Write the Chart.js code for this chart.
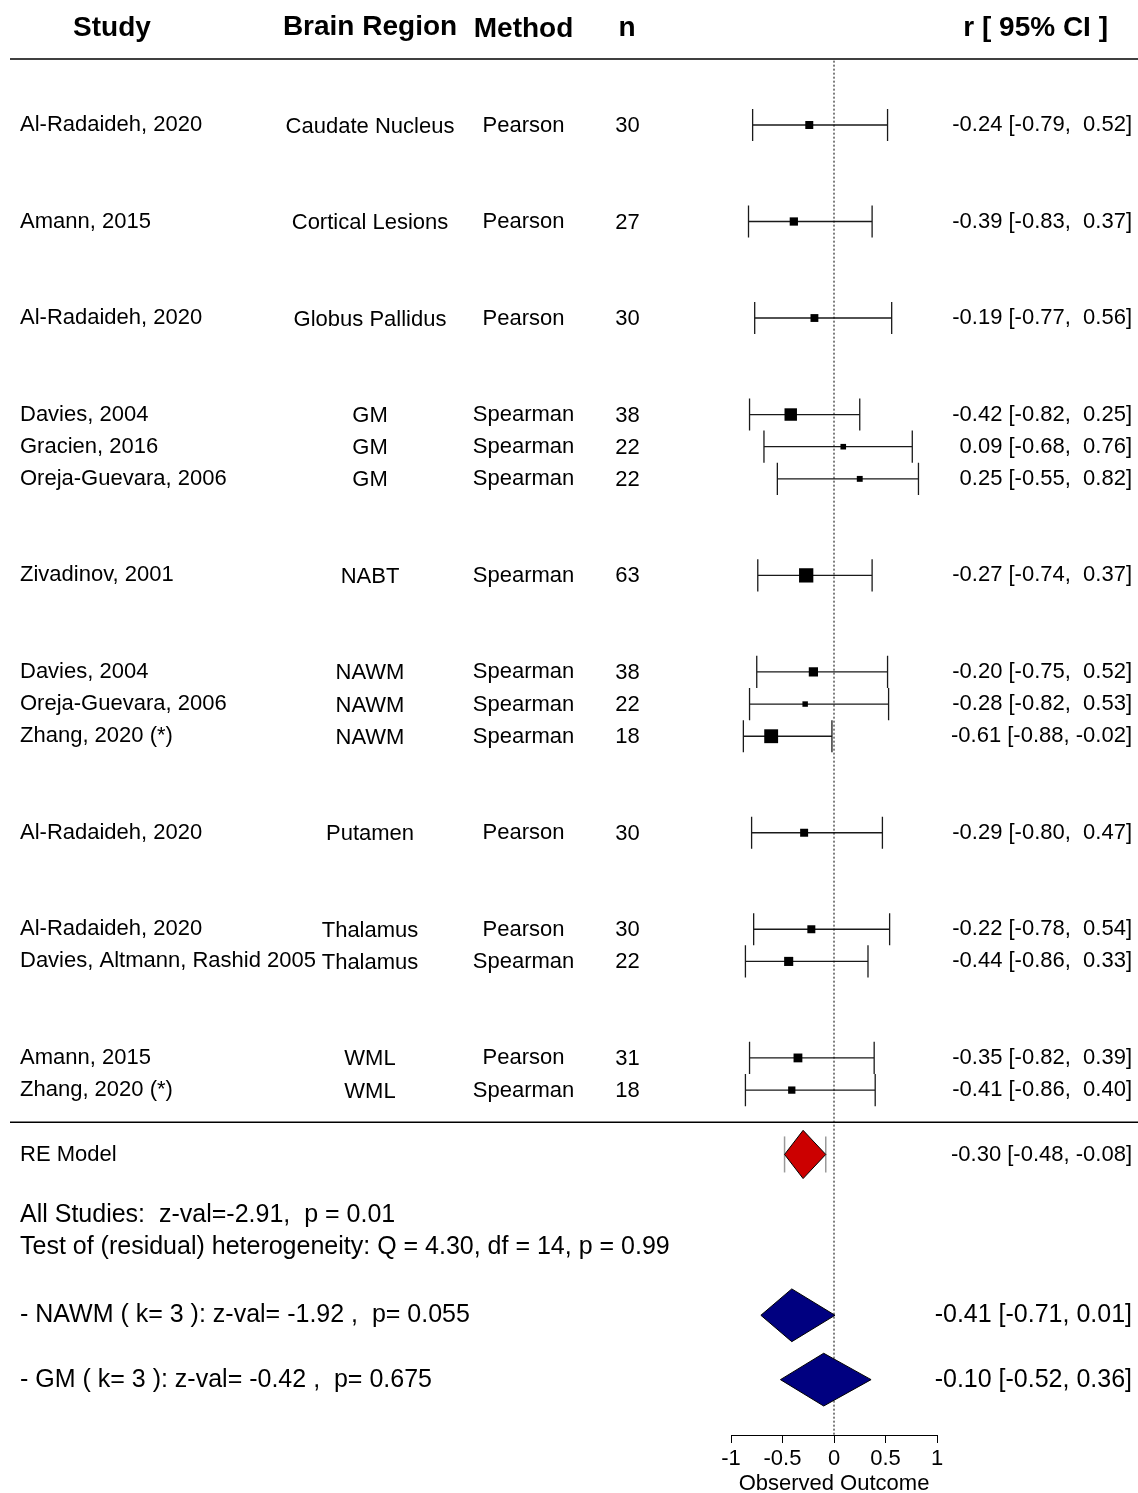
<!DOCTYPE html>
<html>
<head>
<meta charset="utf-8">
<title>Forest plot</title>
<script src="https://cdn.jsdelivr.net/npm/chart.js@4.4.0/dist/chart.umd.min.js"></script>
<style>
  html, body { margin: 0; padding: 0; background: #fff; }
  canvas { display: block; }
</style>
</head>
<body>
<canvas id="forest" width="1138" height="1493"></canvas>
<script>
// ---- study-level data ----
const studies = ['Al-Radaideh, 2020', 'Amann, 2015', 'Al-Radaideh, 2020', 'Davies, 2004', 'Gracien, 2016',
  'Oreja-Guevara, 2006', 'Zivadinov, 2001', 'Davies, 2004', 'Oreja-Guevara, 2006', 'Zhang, 2020 (*)',
  'Al-Radaideh, 2020', 'Al-Radaideh, 2020', 'Davies, Altmann, Rashid 2005', 'Amann, 2015', 'Zhang, 2020 (*)'];
const regions = ['Caudate Nucleus', 'Cortical Lesions', 'Globus Pallidus', 'GM', 'GM', 'GM', 'NABT',
  'NAWM', 'NAWM', 'NAWM', 'Putamen', 'Thalamus', 'Thalamus', 'WML', 'WML'];
const methods = ['Pearson', 'Pearson', 'Pearson', 'Spearman', 'Spearman', 'Spearman', 'Spearman',
  'Spearman', 'Spearman', 'Spearman', 'Pearson', 'Pearson', 'Spearman', 'Pearson', 'Spearman'];
const sampleSizes = [30, 27, 30, 38, 22, 22, 63, 38, 22, 18, 30, 30, 22, 31, 18];
const estimates = [-0.24, -0.39, -0.19, -0.42, 0.09, 0.25, -0.27, -0.20, -0.28, -0.61, -0.29, -0.22, -0.44, -0.35, -0.41];
const ciLower = [-0.79, -0.83, -0.77, -0.82, -0.68, -0.55, -0.74, -0.75, -0.82, -0.88, -0.80, -0.78, -0.86, -0.82, -0.86];
const ciUpper = [0.52, 0.37, 0.56, 0.25, 0.76, 0.82, 0.37, 0.52, 0.53, -0.02, 0.47, 0.54, 0.33, 0.39, 0.40];
const weights = [5.7, 5.9, 5.6, 8.9, 4.0, 4.2, 10.2, 6.6, 3.9, 9.9, 5.7, 5.7, 6.5, 6.3, 5.2];

// ---- pooled random-effects model ----
const overallEstimate = -0.30;
const overallCI = [-0.48, -0.08];
const overallZ = -2.91;
const overallP = '0.01';
const heterogeneityQ = 4.30;
const heterogeneityDf = 14;
const heterogeneityP = '0.99';

// ---- subgroup summaries ----
const subgroupNames = ['NAWM', 'GM'];
const subgroupK = [3, 3];
const subgroupZ = [-1.92, -0.42];
const subgroupP = ['0.055', '0.675'];
const subgroupEstimates = [-0.41, -0.10];
const subgroupLower = [-0.71, -0.52];
const subgroupUpper = [0.01, 0.36];

// ---- axis ----
const xTickStep = 0.5;
const xMin = -1, xMax = 1;
const headers = ['Study', 'Brain Region', 'Method', 'n', 'r [ 95% CI ]'];

// ---- row layout (in row units, counted downward) ----
const rows = [];
regions.forEach((reg, i) => {
  if (i === 0) rows.push(0);
  else rows.push(rows[i - 1] + 1 + (reg !== regions[i - 1] ? 2 : 0));
});
const lastRow = rows[rows.length - 1];
const headerRow = -3;
const headerRuleRow = -2.05;
const footerRuleRow = lastRow + 1;
const overallRow = lastRow + 2;
const statsRows = [lastRow + 3.88, lastRow + 4.88];
const subgroupRows = [lastRow + 7, lastRow + 9];
const ROW_PX = 32.17;
const Y_MIN = -125 / ROW_PX;
const Y_MAX = Y_MIN + 1435 / ROW_PX;

const FONT = "'Liberation Sans', Arial, Helvetica, sans-serif";
Chart.defaults.font.family = FONT;
Chart.defaults.color = '#000';

const fmt = v => v.toFixed(2).padStart(5, ' ');

function diamond(ctx, x, y, est, lo, hi, row, half, fill) {
  const px = x.getPixelForValue(est);
  const pl = x.getPixelForValue(lo);
  const pr = x.getPixelForValue(hi);
  const py = y.getPixelForValue(row);
  const h = y.getPixelForValue(row + half) - py;
  ctx.beginPath();
  ctx.moveTo(pl, py);
  ctx.lineTo(px, py - h);
  ctx.lineTo(pr, py);
  ctx.lineTo(px, py + h);
  ctx.closePath();
  ctx.fillStyle = fill;
  ctx.fill();
  ctx.strokeStyle = '#000';
  ctx.lineWidth = 1;
  ctx.stroke();
}

const forestDecor = {
  id: 'forestDecor',
  beforeDatasetsDraw(chart) {
    const { ctx, scales: { x, y } } = chart;
    ctx.save();
    // confidence interval whiskers with end caps
    ctx.strokeStyle = '#1a1a1a';
    ctx.lineWidth = 1.3;
    const cap = y.getPixelForValue(0.5) - y.getPixelForValue(0);
    rows.forEach((r, i) => {
      const py = y.getPixelForValue(r);
      const x0 = x.getPixelForValue(ciLower[i]);
      const x1 = x.getPixelForValue(ciUpper[i]);
      ctx.beginPath();
      ctx.moveTo(x0, py); ctx.lineTo(x1, py);
      ctx.moveTo(x0, py - cap); ctx.lineTo(x0, py + cap);
      ctx.moveTo(x1, py - cap); ctx.lineTo(x1, py + cap);
      ctx.stroke();
    });
    ctx.restore();
  },
  afterDatasetsDraw(chart) {
    const { ctx, scales: { x, y } } = chart;
    ctx.save();
    // pooled estimate: bounds of the interval as grey bars, then the diamond
    const gy = y.getPixelForValue(overallRow);
    const gh = y.getPixelForValue(0.56) - y.getPixelForValue(0);
    ctx.strokeStyle = '#9a9a9a';
    ctx.lineWidth = 1.5;
    overallCI.forEach(v => {
      const gx = x.getPixelForValue(v);
      ctx.beginPath();
      ctx.moveTo(gx, gy - gh); ctx.lineTo(gx, gy + gh);
      ctx.stroke();
    });
    diamond(ctx, x, y, overallEstimate, overallCI[0], overallCI[1], overallRow, 0.75, '#cc0000');
    subgroupNames.forEach((n, i) => {
      diamond(ctx, x, y, subgroupEstimates[i], subgroupLower[i], subgroupUpper[i], subgroupRows[i], 0.82, '#000080');
    });
    ctx.restore();
  },
  afterDraw(chart) {
    const { ctx, scales: { y } } = chart;
    const W = chart.width;
    ctx.save();
    // horizontal rules
    ctx.strokeStyle = '#000';
    ctx.lineWidth = 1.5;
    [headerRuleRow, footerRuleRow].forEach(r => {
      const py = y.getPixelForValue(r);
      ctx.beginPath();
      ctx.moveTo(10, py); ctx.lineTo(W, py);
      ctx.stroke();
    });

    ctx.fillStyle = '#000';
    ctx.textBaseline = 'middle';

    // column headers
    const hy = y.getPixelForValue(headerRow);
    ctx.font = `bold 28px ${FONT}`;
    ctx.textAlign = 'center';
    ctx.fillText(headers[0], 112, hy);
    ctx.fillText(headers[1], 370, hy - 1);
    ctx.fillText(headers[2], 523.5, hy + 1);
    ctx.fillText(headers[3], 627, hy);
    ctx.textAlign = 'right';
    ctx.fillText(headers[4], 1108, hy);

    // study rows
    ctx.font = `22px ${FONT}`;
    rows.forEach((r, i) => {
      const py = y.getPixelForValue(r);
      ctx.textAlign = 'left';
      ctx.fillText(studies[i], 20, py);
      ctx.textAlign = 'center';
      ctx.fillText(regions[i], 370, py + 1.5);
      ctx.fillText(methods[i], 523.5, py + 0.5);
      ctx.fillText(String(sampleSizes[i]), 627.5, py + 1);
      ctx.textAlign = 'right';
      ctx.fillText(`${fmt(estimates[i])} [${fmt(ciLower[i])}, ${fmt(ciUpper[i])}]`, 1132, py);
    });

    // pooled model row
    const oy = y.getPixelForValue(overallRow);
    ctx.textAlign = 'left';
    ctx.fillText('RE Model', 20, oy);
    ctx.textAlign = 'right';
    ctx.fillText(`${fmt(overallEstimate)} [${fmt(overallCI[0])}, ${fmt(overallCI[1])}]`, 1132, oy);

    // test statistics
    ctx.font = `25px ${FONT}`;
    ctx.textAlign = 'left';
    ctx.fillText(`All Studies:  z-val=${overallZ.toFixed(2)},  p = ${overallP}`, 20, y.getPixelForValue(statsRows[0]));
    ctx.fillText(`Test of (residual) heterogeneity: Q = ${heterogeneityQ.toFixed(2)}, df = ${heterogeneityDf}, p = ${heterogeneityP}`,
      20, y.getPixelForValue(statsRows[1]));

    // subgroup lines
    subgroupNames.forEach((n, i) => {
      const py = y.getPixelForValue(subgroupRows[i]);
      ctx.textAlign = 'left';
      ctx.fillText(`- ${n} ( k= ${subgroupK[i]} ): z-val= ${subgroupZ[i].toFixed(2)} ,  p= ${subgroupP[i]}`, 20, py);
      ctx.textAlign = 'right';
      ctx.fillText(`${subgroupEstimates[i].toFixed(2)} [${subgroupLower[i].toFixed(2)}, ${subgroupUpper[i].toFixed(2)}]`, 1132, py);
    });
    ctx.restore();
  }
};

new Chart(document.getElementById('forest'), {
  data: {
    datasets: [
      {
        // line of no effect
        type: 'line',
        data: [{ x: 0, y: headerRuleRow + 0.05 }, { x: 0, y: Y_MAX }],
        borderColor: '#000',
        borderWidth: 1,
        borderDash: [2, 2],
        pointRadius: 0,
        fill: false
      },
      {
        // study estimates, square area follows weight
        type: 'scatter',
        data: estimates.map((e, i) => ({ x: e, y: rows[i] })),
        pointStyle: 'rect',
        pointRadius: weights.map(w => (w * 1.4) / Math.SQRT2),
        pointHoverRadius: weights.map(w => (w * 1.4) / Math.SQRT2),
        backgroundColor: '#000',
        borderColor: '#000',
        borderWidth: 0
      }
    ]
  },
  options: {
    responsive: false,
    devicePixelRatio: 1,
    animation: false,
    events: [],
    layout: { autoPadding: false, padding: { left: 731, right: 201, top: 0, bottom: 0 } },
    plugins: { legend: { display: false }, tooltip: { enabled: false } },
    scales: {
      x: {
        type: 'linear',
        min: xMin,
        max: xMax,
        bounds: 'data',
        ticks: {
          stepSize: xTickStep,
          color: '#000',
          font: { size: 22, lineHeight: 1 },
          padding: 5,
          maxRotation: 0,
          autoSkip: false,
          callback: v => String(+Number(v).toFixed(1))
        },
        grid: { drawOnChartArea: false, drawTicks: true, tickLength: 8, color: '#000', lineWidth: 1 },
        border: { display: true, color: '#000', width: 1 },
        title: {
          display: true,
          text: 'Observed Outcome',
          color: '#000',
          font: { size: 22, lineHeight: 18 / 22 },
          padding: { top: 0, bottom: 0 }
        }
      },
      y: {
        type: 'linear',
        display: false,
        reverse: true,
        min: Y_MIN,
        max: Y_MAX,
        bounds: 'data'
      }
    }
  },
  plugins: [forestDecor]
});
</script>
</body>
</html>
